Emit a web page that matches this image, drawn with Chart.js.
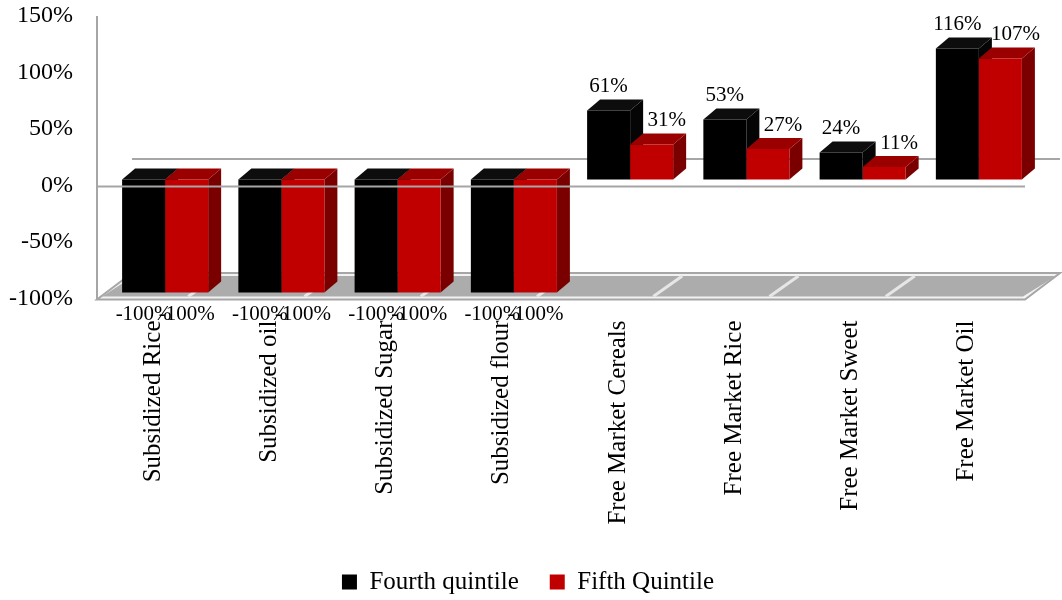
<!DOCTYPE html>
<html>
<head>
<meta charset="utf-8">
<script src="https://cdn.jsdelivr.net/npm/chart.js@4.4.1/dist/chart.umd.min.js"></script>
<style>
  html, body { margin: 0; padding: 0; background: #ffffff; }
  #wrap { width: 1062px; height: 600px; position: relative; }
</style>
</head>
<body>
<div id="wrap"><canvas id="c" width="1062" height="600"></canvas></div>
<script>
// ---- data ----
const categories = ['Subsidized Rice', 'Subsidized oil', 'Subsidized Sugar', 'Subsidized flour',
                    'Free Market Cereals', 'Free Market Rice', 'Free Market Sweet', 'Free Market Oil'];
const fourthQuintile = [-100, -100, -100, -100, 61, 53, 24, 116];
const fifthQuintile  = [-100, -100, -100, -100, 31, 27, 11, 107];
const seriesNames = ['Fourth quintile', 'Fifth Quintile'];
const yTickValues = [-100, -50, 0, 50, 100, 150];

// ---- styles ----
const FONT = "'Liberation Serif', 'Times New Roman', serif";
const frontColors = ['#000000', '#c00000'];
const topColors   = ['#0d0d0d', '#9a0000'];
const sideColors  = ['#050505', '#7a0000'];
const DEPTH = { dx: 13, dy: -11 };
const FLOOR = { dx: 35, dy: -26.5 };

const bar3d = {
  id: 'bar3d',
  beforeDatasetsDraw(chart) {
    const ctx = chart.ctx;
    const ca = chart.chartArea;
    const yt = chart.scales.yt;
    const yBot = yt.getPixelForValue(-100) + 1;
    const yTop = yt.getPixelForValue(150);
    const y0 = yt.getPixelForValue(0);
    const fl = ca.left - 10, fr = ca.right - 12;
    ctx.save();
    // floor
    ctx.beginPath();
    ctx.moveTo(fl, yBot);
    ctx.lineTo(fr, yBot);
    ctx.lineTo(fr + FLOOR.dx, yBot + FLOOR.dy);
    ctx.lineTo(fl + FLOOR.dx, yBot + FLOOR.dy);
    ctx.closePath();
    ctx.fillStyle = '#f2f2f2';
    ctx.fill();
    ctx.lineWidth = 2;
    ctx.strokeStyle = '#a6a6a6';
    ctx.stroke();
    const ins = 3;
    ctx.beginPath();
    ctx.moveTo(fl + 5, yBot - ins);
    ctx.lineTo(fr - 2, yBot - ins);
    ctx.lineTo(fr + FLOOR.dx - 4, yBot + FLOOR.dy + ins);
    ctx.lineTo(fl + FLOOR.dx + 2, yBot + FLOOR.dy + ins);
    ctx.closePath();
    ctx.fillStyle = '#acacac';
    ctx.fill();
    // separators between categories
    ctx.strokeStyle = '#e6e6e6';
    ctx.lineWidth = 3;
    const step = (ca.right - ca.left) / categories.length;
    for (let k = 1; k < categories.length; k++) {
      const bx = ca.left + step * k - 35;
      ctx.beginPath();
      ctx.moveTo(bx, yBot - ins);
      ctx.lineTo(bx + FLOOR.dx - 6, yBot + FLOOR.dy + ins);
      ctx.stroke();
    }
    // left wall line
    ctx.strokeStyle = '#a6a6a6';
    ctx.lineWidth = 2;
    ctx.beginPath();
    ctx.moveTo(fl, yTop);
    ctx.lineTo(fl, yBot);
    ctx.stroke();
    // back zero line
    ctx.beginPath();
    ctx.moveTo(fl + FLOOR.dx, y0 + FLOOR.dy);
    ctx.lineTo(fr + FLOOR.dx, y0 + FLOOR.dy);
    ctx.stroke();

    // 3D top and side faces of bars
    chart.data.datasets.forEach((ds, di) => {
      const meta = chart.getDatasetMeta(di);
      meta.data.forEach((bar) => {
        const p = bar.getProps(['x', 'y', 'base', 'width'], true);
        const l = p.x - p.width / 2, r = p.x + p.width / 2;
        const t = Math.min(p.y, p.base), b = Math.max(p.y, p.base);
        ctx.fillStyle = sideColors[di];
        ctx.beginPath();
        ctx.moveTo(r, t);
        ctx.lineTo(r + DEPTH.dx, t + DEPTH.dy);
        ctx.lineTo(r + DEPTH.dx, b + DEPTH.dy);
        ctx.lineTo(r, b);
        ctx.closePath();
        ctx.fill();
        ctx.fillStyle = topColors[di];
        ctx.beginPath();
        ctx.moveTo(l, t);
        ctx.lineTo(l + DEPTH.dx, t + DEPTH.dy);
        ctx.lineTo(r + DEPTH.dx, t + DEPTH.dy);
        ctx.lineTo(r, t);
        ctx.closePath();
        ctx.fill();
      });
    });
    ctx.restore();
  },
  afterDatasetsDraw(chart) {
    const ctx = chart.ctx;
    const ca = chart.chartArea;
    const yt = chart.scales.yt;
    const y0 = yt.getPixelForValue(0) + 1;
    ctx.save();
    // front zero line
    ctx.strokeStyle = '#a6a6a6';
    ctx.lineWidth = 2;
    ctx.beginPath();
    ctx.moveTo(ca.left - 10, y0);
    ctx.lineTo(ca.right - 12, y0);
    ctx.stroke();
    // data labels
    ctx.fillStyle = '#000';
    ctx.font = '21px ' + FONT;
    ctx.textAlign = 'center';
    ctx.textBaseline = 'middle';
    chart.data.datasets.forEach((ds, di) => {
      const meta = chart.getDatasetMeta(di);
      meta.data.forEach((bar, i) => {
        const v = ds.data[i];
        const p = bar.getProps(['x', 'y', 'base'], true);
        if (v >= 0) {
          ctx.fillText(v + '%', p.x + (di === 1 ? 15 : 0), p.y - 24);
        } else {
          ctx.fillText(v + '%', p.x, p.y + 22);
        }
      });
    });
    ctx.restore();
  }
};

new Chart(document.getElementById('c'), {
  type: 'bar',
  data: {
    labels: categories,
    datasets: [
      { label: seriesNames[0], data: fourthQuintile, backgroundColor: frontColors[0], yAxisID: 'y',
        categoryPercentage: 0.74, barPercentage: 1.0 },
      { label: seriesNames[1], data: fifthQuintile, backgroundColor: frontColors[1], yAxisID: 'y',
        categoryPercentage: 0.74, barPercentage: 1.0 }
    ]
  },
  options: {
    responsive: false,
    animation: false,
    layout: { padding: { top: 16, right: 6, left: 0, bottom: -4.5 } },
    plugins: {
      legend: {
        position: 'bottom',
        labels: {
          font: { family: FONT, size: 25 },
          color: '#000',
          boxWidth: 15,
          boxHeight: 15,
          padding: 31
        }
      },
      tooltip: { enabled: false }
    },
    scales: {
      x: {
        grid: { display: false },
        border: { display: false },
        ticks: {
          autoSkip: false,
          minRotation: 90,
          maxRotation: 90,
          padding: 14,
          labelOffset: -12,
          color: '#000',
          font: { family: FONT, size: 25 }
        },
        afterFit(scale) { scale.height = 240; scale.paddingLeft = 0; scale.paddingRight = 0; }
      },
      y: {
        display: false,
        min: -105.3,
        max: 144.7
      },
      yt: {
        position: 'left',
        min: -100,
        max: 150,
        grid: { display: false, drawTicks: false },
        border: { display: false },
        afterBuildTicks(scale) { scale.ticks = yTickValues.map(v => ({ value: v })); },
        ticks: {
          padding: 34,
          color: '#000',
          font: { family: FONT, size: 24 },
          callback: (v) => v + '%'
        },
        afterFit(scale) { scale.width = 107; scale.paddingTop = 0; scale.paddingBottom = 0; }
      },
      yr: {
        position: 'right',
        min: 0,
        max: 1,
        grid: { display: false, drawTicks: false },
        border: { display: false },
        ticks: { display: false },
        afterFit(scale) { scale.width = 19; scale.paddingTop = 0; scale.paddingBottom = 0; }
      }
    }
  },
  plugins: [bar3d]
});
</script>
</body>
</html>
